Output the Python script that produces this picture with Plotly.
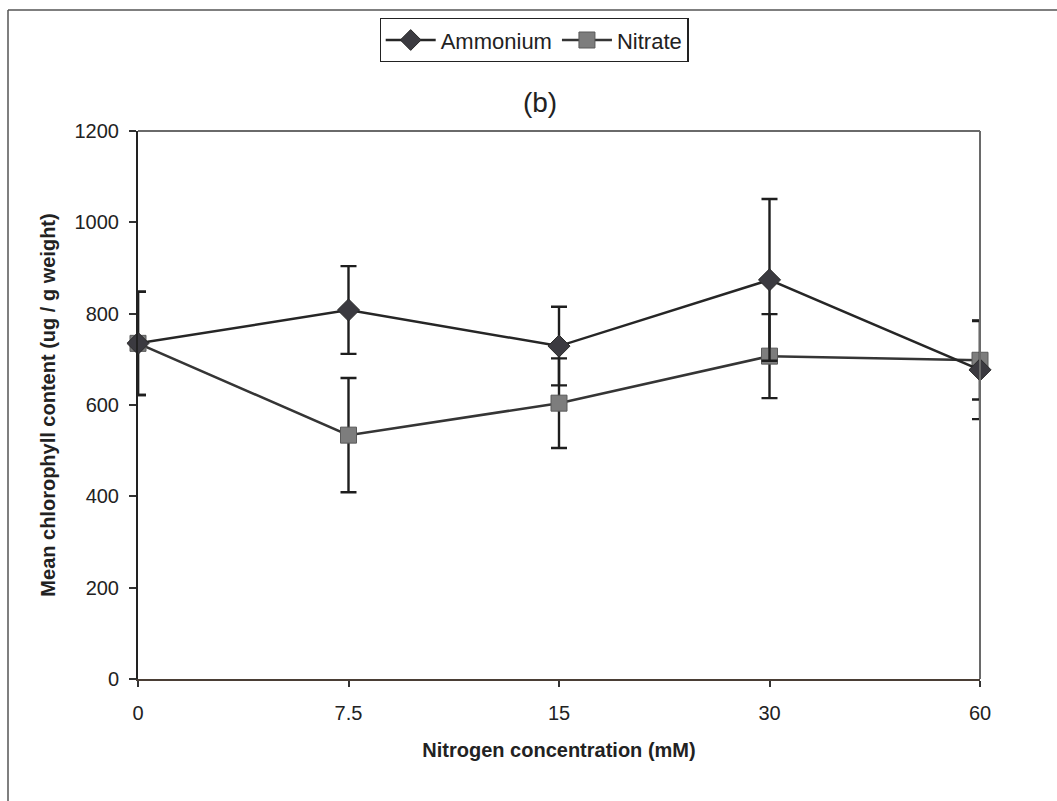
import plotly.graph_objects as go

# Nitrogen treatment levels (mM), plotted as evenly spaced categories
concentrations = ["0", "7.5", "15", "30", "60"]

# Mean chlorophyll content (ug / g weight) and error bar half-widths
ammonium_mean = [735, 808, 729, 874, 677]
ammonium_err = [113, 96, 86, 177, 108]
nitrate_mean = [735, 534, 604, 707, 698]
nitrate_err = [113, 125, 98, 92, 86]

y_ticks = [0, 200, 400, 600, 800, 1000, 1200]

W, H = 1057, 801
L, R, T, B = 138, 77, 131, 122
font_family = "Liberation Sans, Arial, sans-serif"
ink = "#222222"

fig = go.Figure()

fig.add_trace(go.Scatter(
    x=concentrations, y=nitrate_mean, name="Nitrate",
    mode="lines+markers",
    line=dict(color="#353535", width=2.5),
    marker=dict(symbol="square", size=16, color="#7d7d7d",
                line=dict(color="#5a5a5a", width=1)),
    error_y=dict(type="data", array=nitrate_err, visible=True,
                 color="#1e1e1e", thickness=2.4, width=8),
    cliponaxis=False,
))

fig.add_trace(go.Scatter(
    x=concentrations, y=ammonium_mean, name="Ammonium",
    mode="lines+markers",
    line=dict(color="#262626", width=2.5),
    marker=dict(symbol="diamond", size=17, color="#3b3a40",
                line=dict(color="#2a2a2a", width=1)),
    error_y=dict(type="data", array=ammonium_err, visible=True,
                 color="#1e1e1e", thickness=2.4, width=8),
    cliponaxis=False,
))

# Frame lines along the top and left of the figure
def px_x(p):
    return (p - L) / (W - L - R)

def px_y(p):
    return 1 - (p - T) / (H - T - B)

fig.add_shape(type="line", xref="paper", yref="paper",
              x0=px_x(8), x1=px_x(W), y0=px_y(10), y1=px_y(10),
              line=dict(color="#555555", width=1.5))
fig.add_shape(type="line", xref="paper", yref="paper",
              x0=px_x(8), x1=px_x(8), y0=px_y(10), y1=px_y(H),
              line=dict(color="#555555", width=1.5))

fig.update_layout(
    width=W, height=H,
    margin=dict(l=L, r=R, t=T, b=B),
    paper_bgcolor="white", plot_bgcolor="white",
    font=dict(family=font_family, size=20, color=ink),
    title=dict(text="(b)", xref="container", x=540 / W, xanchor="center",
               yref="container", y=1 - 102 / H, yanchor="middle",
               font=dict(size=28, color=ink)),
    showlegend=True,
    legend=dict(orientation="h", x=px_x(534), xanchor="center",
                y=px_y(40), yanchor="middle",
                traceorder="reversed",
                bordercolor="#222222", borderwidth=1.2,
                bgcolor="white", font=dict(size=22, color=ink),
                itemwidth=50),
    xaxis=dict(
        type="category", categoryorder="array", categoryarray=concentrations,
        range=[0, 4], showgrid=False, zeroline=False,
        showline=True, linecolor="#4a3e35", linewidth=2,
        mirror=False, ticks="outside", ticklen=6, tickcolor="#333333",
        tickwidth=1.5, ticklabelstandoff=9,
        tickfont=dict(size=20, color=ink),
        title=dict(text="<b>Nitrogen concentration (mM)</b>",
                   font=dict(size=20, color=ink), standoff=20),
    ),
    yaxis=dict(
        range=[0, 1200], tickvals=y_ticks, showgrid=False, zeroline=False,
        showline=True, linecolor="#222222", linewidth=2,
        ticks="outside", ticklen=7, tickcolor="#333333", tickwidth=1.5,
        ticklabelstandoff=6,
        tickfont=dict(size=20, color=ink),
        title=dict(text="<b>Mean chlorophyll content (ug / g weight)</b>",
                   font=dict(size=20, color=ink), standoff=14),
    ),
)

# Plot-area border on the top and right sides
fig.add_shape(type="line", xref="paper", yref="paper",
              x0=0, x1=1, y0=1, y1=1,
              line=dict(color="#6a6a6a", width=2))
fig.add_shape(type="line", xref="paper", yref="paper",
              x0=1, x1=1, y0=0, y1=1,
              line=dict(color="#6a6a6a", width=2))

fig.write_html("out.html")
